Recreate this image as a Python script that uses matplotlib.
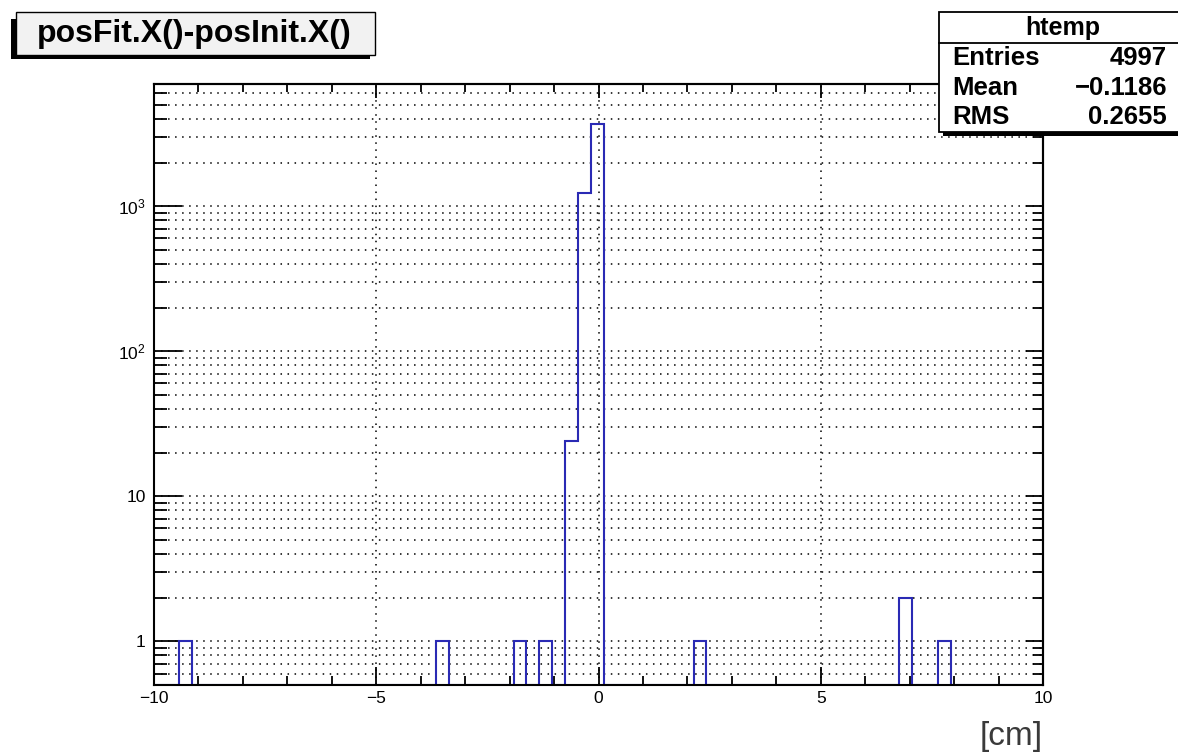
import numpy as np
import matplotlib
matplotlib.use('Agg')
import matplotlib.pyplot as plt
from matplotlib.patches import Rectangle
from matplotlib.lines import Line2D
from matplotlib.ticker import FixedLocator, NullFormatter, FixedFormatter

plt.rcParams['font.family'] = ['Liberation Sans', 'DejaVu Sans']
plt.rcParams['mathtext.fontset'] = 'custom'
plt.rcParams['mathtext.rm'] = 'Liberation Sans'
plt.rcParams['mathtext.it'] = 'Liberation Sans:italic'
plt.rcParams['mathtext.bf'] = 'Liberation Sans:bold'

# ---------------- data ----------------
bin_width = 0.2893
bin_origin = -0.755
bin_centers = [-9.29, -3.50, -1.77, -1.19, -0.61, -0.32, -0.03, 2.28, 6.91, 7.78]
bin_counts = [1, 1, 1, 1, 24, 1241, 3697, 1, 2, 1]
x_range = [-10, 10]
y_range = [0.5, 6970]
x_major = [-10, -5, 0, 5, 10]
x_minor = [-9, -8, -7, -6, -4, -3, -2, -1, 1, 2, 3, 4, 6, 7, 8, 9]
y_major = [1, 10, 100, 1000]
y_major_labels = ['1', '10', r'$10^{2}$', r'$10^{3}$']
y_minor = [m * d for d in [0.1, 1, 10, 100, 1000] for m in range(2, 10)]
title = 'posFit.X()-posInit.X()'
stats_name = 'htemp'
stats_labels = ['Entries', 'Mean', 'RMS']
stats_values = ['4997', '\u22120.1186', '0.2655']
x_unit = '[cm]'

W, H = 1178, 754
fig = plt.figure(figsize=(W / 100, H / 100), dpi=100)
ax = fig.add_axes([154 / W, 69 / H, 889 / W, 601 / H])

edges = bin_origin + np.arange(-33, 39) * bin_width
hist, _ = np.histogram(bin_centers, bins=edges, weights=bin_counts)
vals = np.where(hist > 0, hist, y_range[0])
ax.stairs(vals, edges, baseline=y_range[0], color='#2a2ab4', lw=1.5, zorder=3)

ax.set_yscale('log')
ax.set_xlim(*x_range)
ax.set_ylim(*y_range)

ax.xaxis.set_major_locator(FixedLocator(x_major))
ax.xaxis.set_minor_locator(FixedLocator(x_minor))
ax.xaxis.set_major_formatter(FixedFormatter([f'{v:g}'.replace('-', '\u2212') for v in x_major]))
ax.xaxis.set_minor_formatter(NullFormatter())
ax.yaxis.set_major_locator(FixedLocator(y_major))
ax.yaxis.set_minor_locator(FixedLocator(y_minor))
ax.yaxis.set_major_formatter(FixedFormatter(y_major_labels))
ax.yaxis.set_minor_formatter(NullFormatter())

gkw = dict(color='black', linestyle=(0, (1, 3.6)), linewidth=1.1)
ax.xaxis.grid(True, which='major', **gkw)
ax.yaxis.grid(True, which='both', **gkw)

for s in ax.spines.values():
    s.set_linewidth(1.5)
    s.set_zorder(4)

ax.tick_params(axis='x', which='major', direction='in', length=13, width=1.3,
               labelsize=12.5, pad=4, top=False)
ax.tick_params(axis='x', which='minor', direction='in', length=6.5, width=1.3, top=False)
ax.tick_params(axis='y', which='major', direction='in', length=20, width=1.3,
               labelsize=12.5, pad=6, right=False)
ax.tick_params(axis='y', which='minor', direction='in', length=9.5, width=1.3, right=False)

secx = ax.secondary_xaxis('top')
secx.xaxis.set_major_locator(FixedLocator(x_major))
secx.xaxis.set_minor_locator(FixedLocator(x_minor))
secx.xaxis.set_major_formatter(NullFormatter())
secx.xaxis.set_minor_formatter(NullFormatter())
secx.tick_params(which='major', direction='in', length=10, width=1.3)
secx.tick_params(which='minor', direction='in', length=5.5, width=1.3)
secx.spines['top'].set_linewidth(1.5)

secy = ax.secondary_yaxis('right')
secy.yaxis.set_major_locator(FixedLocator(y_major))
secy.yaxis.set_minor_locator(FixedLocator(y_minor))
secy.yaxis.set_major_formatter(NullFormatter())
secy.yaxis.set_minor_formatter(NullFormatter())
secy.tick_params(which='major', direction='in', length=12, width=1.3)
secy.tick_params(which='minor', direction='in', length=7, width=1.3)
secy.spines['right'].set_linewidth(1.5)

# x unit label
fig.text(1043 / W, 1 - 737 / H, x_unit, ha='right', va='center', fontsize=24, color='#3a3a3a')


def fx(px):
    return px / W


def fy(py):
    return 1 - py / H


# title box with shadow
fig.patches.append(Rectangle((fx(11), fy(58.5)), fx(370) - fx(11), fy(19) - fy(58.5),
                             transform=fig.transFigure, facecolor='black', edgecolor='none'))
fig.patches.append(Rectangle((fx(15.7), fy(55)), fx(375) - fx(15.7), fy(12.3) - fy(55),
                             transform=fig.transFigure, facecolor='#f2f2f2',
                             edgecolor='black', lw=1.0))
fig.text(fx(194), fy(34), title, ha='center', va='center', fontsize=23, fontweight='bold')

# stats box
fig.patches.append(Rectangle((fx(943), fy(135.5)), fx(1200) - fx(943), fy(131) - fy(135.5),
                             transform=fig.transFigure, facecolor='black', edgecolor='none'))
fig.patches.append(Rectangle((fx(939.3), fy(131.7)), fx(1200) - fx(939.3), fy(12.3) - fy(131.7),
                             transform=fig.transFigure, facecolor='white',
                             edgecolor='black', lw=1.3))
fig.lines.append(Line2D([fx(939.3), fx(1178)], [fy(42.7), fy(42.7)],
                        transform=fig.transFigure, color='black', lw=1.3))
fig.text(fx(1063), fy(27.5), stats_name, ha='center', va='center', fontsize=18, fontweight='bold')
row_y = [58, 88, 117]
for lab, val, yy in zip(stats_labels, stats_values, row_y):
    fig.text(fx(952), fy(yy), lab, ha='left', va='center', fontsize=18.5, fontweight='bold')
    fig.text(fx(1167), fy(yy), val, ha='right', va='center', fontsize=18.5, fontweight='bold')

fig.savefig('out.png', dpi=100)
